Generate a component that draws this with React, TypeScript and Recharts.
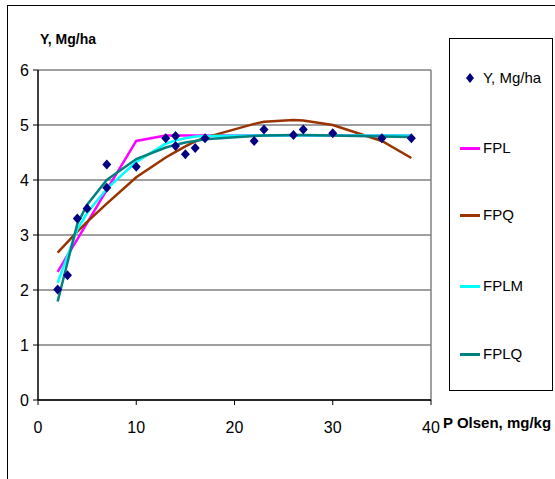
import React from "react";
import {
  CartesianGrid,
  ComposedChart,
  Line,
  ReferenceLine,
  Scatter,
  XAxis,
  YAxis,
} from "recharts";

// measured yield points (P Olsen mg/kg, Y Mg/ha)
const obsX = [2, 3, 4, 5, 7, 7, 10, 13, 14, 14, 15, 16, 17, 22, 23, 26, 27, 30, 35, 38];
const obsY = [2.01, 2.27, 3.3, 3.48, 4.28, 3.86, 4.24, 4.76, 4.8, 4.62, 4.47, 4.58, 4.76, 4.71, 4.92, 4.82, 4.92, 4.85, 4.76, 4.76];

// fitted curves, read at the distinct P levels
const fitX = [2, 3, 4, 5, 7, 10, 13, 14, 15, 16, 17, 22, 23, 26, 27, 30, 35, 38];
const fpl = [2.33, 2.63, 2.92, 3.22, 3.82, 4.71, 4.81, 4.81, 4.81, 4.81, 4.81, 4.81, 4.81, 4.81, 4.81, 4.81, 4.81, 4.81];
const fpq = [2.68, 2.87, 3.06, 3.24, 3.57, 4.05, 4.41, 4.51, 4.61, 4.7, 4.77, 5.02, 5.06, 5.09, 5.08, 5.0, 4.71, 4.4];
const fplm = [2.13, 2.62, 3.1, 3.4, 3.84, 4.33, 4.66, 4.72, 4.76, 4.79, 4.8, 4.81, 4.81, 4.81, 4.81, 4.81, 4.81, 4.81];
const fplq = [1.79, 2.5, 3.2, 3.55, 4.0, 4.38, 4.59, 4.64, 4.68, 4.71, 4.74, 4.8, 4.81, 4.82, 4.82, 4.81, 4.79, 4.78];

const xTicks = [0, 10, 20, 30, 40];
const yTicks = [0, 1, 2, 3, 4, 5, 6];

const seriesNames = ["Y, Mg/ha", "FPL", "FPQ", "FPLM", "FPLQ"];
const seriesColors = ["#000080", "#FF00FF", "#993300", "#00FFFF", "#008080"];

const fitData = fitX.map((x, i) => ({
  x,
  fpl: fpl[i],
  fpq: fpq[i],
  fplm: fplm[i],
  fplq: fplq[i],
}));
const obsData = obsX.map((x, i) => ({ x, y: obsY[i] }));

const font = "'Liberation Sans', Arial, sans-serif";

function Diamond(props: any) {
  const { cx, cy } = props;
  const r = 5;
  return (
    <polygon
      points={`${cx},${cy - r} ${cx + r - 0.5},${cy} ${cx},${cy + r} ${cx - r + 0.5},${cy}`}
      fill="#000080"
    />
  );
}

function LegendBox() {
  const rowsY = [77, 147, 214, 285, 353];
  return (
    <div
      style={{
        position: "absolute",
        left: 449,
        top: 38,
        width: 102,
        height: 351,
        border: "1px solid #000",
        background: "#fff",
      }}
    >
      {seriesNames.map((name, i) => (
        <div
          key={name}
          style={{
            position: "absolute",
            left: 0,
            top: rowsY[i] - 38 - 10,
            height: 20,
            width: 102,
            fontFamily: font,
            fontSize: 15,
            lineHeight: "20px",
          }}
        >
          {i === 0 ? (
            <svg width={12} height={12} style={{ position: "absolute", left: 14, top: 4 }}>
              <polygon points="6,1 10,6 6,11 2,6" fill={seriesColors[0]} />
            </svg>
          ) : (
            <div
              style={{
                position: "absolute",
                left: 10,
                top: 9,
                width: 20,
                height: 3,
                background: seriesColors[i],
              }}
            />
          )}
          <span style={{ position: "absolute", left: 33, top: 0, whiteSpace: "nowrap" }}>{name}</span>
        </div>
      ))}
    </div>
  );
}

export default function App() {
  return (
    <div
      style={{
        position: "absolute",
        left: 0,
        top: 0,
        width: 555,
        height: 479,
        overflow: "hidden",
        background: "#fff",
        fontFamily: font,
      }}
    >
      <div
        style={{
          position: "absolute",
          left: 7,
          top: 5,
          width: 700,
          height: 700,
          borderLeft: "1.5px solid #000",
          borderTop: "1.5px solid #000",
        }}
      />
      <ComposedChart
        width={555}
        height={479}
        data={fitData}
        margin={{ top: 70, right: 124, left: 0, bottom: 49 }}
        style={{ position: "absolute", left: 0, top: 0 }}
      >
        <CartesianGrid vertical={false} stroke="#808080" strokeWidth={1.5} />
        <XAxis
          dataKey="x"
          type="number"
          domain={[0, 40]}
          ticks={xTicks}
          height={30}
          tickSize={5}
          tickMargin={17}
          axisLine={{ stroke: "#000", strokeWidth: 1.5 }}
          tickLine={{ stroke: "#000" }}
          tick={{ fill: "#000", fontSize: 16, fontFamily: font }}
          allowDataOverflow
        />
        <YAxis
          type="number"
          domain={[0, 6]}
          ticks={yTicks}
          width={38}
          tickSize={5}
          tickMargin={4}
          axisLine={{ stroke: "#000", strokeWidth: 1.5 }}
          tickLine={{ stroke: "#000" }}
          tick={{ fill: "#000", fontSize: 16, fontFamily: font }}
        />
        <ReferenceLine x={40} stroke="#808080" strokeWidth={1.5} />
        <Line dataKey="fpl" name="FPL" type="linear" stroke={seriesColors[1]} strokeWidth={2.5} dot={false} isAnimationActive={false} />
        <Line dataKey="fpq" name="FPQ" type="linear" stroke={seriesColors[2]} strokeWidth={2.5} dot={false} isAnimationActive={false} />
        <Line dataKey="fplm" name="FPLM" type="linear" stroke={seriesColors[3]} strokeWidth={2.5} dot={false} isAnimationActive={false} />
        <Line dataKey="fplq" name="FPLQ" type="linear" stroke={seriesColors[4]} strokeWidth={2.5} dot={false} isAnimationActive={false} />
        <Scatter data={obsData} dataKey="y" name="Y, Mg/ha" shape={<Diamond />} isAnimationActive={false} />
      </ComposedChart>
      <div
        style={{
          position: "absolute",
          left: 40,
          top: 31,
          fontFamily: font,
          fontWeight: "bold",
          fontSize: 14,
          whiteSpace: "nowrap",
        }}
      >
        Y, Mg/ha
      </div>
      <div
        style={{
          position: "absolute",
          left: 443,
          top: 414,
          fontFamily: font,
          fontWeight: "bold",
          fontSize: 15,
          whiteSpace: "nowrap",
        }}
      >
        P Olsen, mg/kg
      </div>
      <LegendBox />
    </div>
  );
}
